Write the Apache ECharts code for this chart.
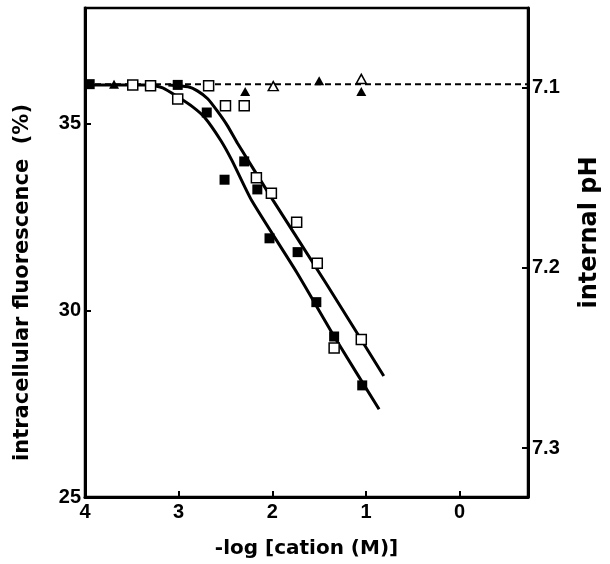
<!DOCTYPE html>
<html>
<head>
<meta charset="utf-8">
<script src="https://cdn.jsdelivr.net/npm/echarts@6/dist/echarts.min.js"></script>
<style>
  html, body { margin: 0; padding: 0; background: #fff; }
  #chart { width: 610px; height: 564px; }
</style>
</head>
<body>
<div id="chart"></div>
<script>
// tick labels
const xTicks = [4, 3, 2, 1, 0];
const fluoTicks = [25, 30, 35];
const phTicks = [7.1, 7.2, 7.3];

// intracellular fluorescence (%) vs -log[cation]
const filledSq = [[3.95, 36.06], [3.01, 36.04], [2.70, 35.30], [2.51, 33.50], [2.30, 33.99], [2.16, 33.24],
  [2.03, 31.93], [1.73, 31.56], [1.53, 30.22], [1.34, 29.30], [1.04, 27.99]];
const openSq = [[3.49, 36.04], [3.30, 36.02], [3.01, 35.66], [2.68, 36.02], [2.50, 35.48], [2.30, 35.48],
  [2.17, 33.55], [2.01, 33.14], [1.74, 32.36], [1.52, 31.26], [1.34, 28.99], [1.05, 29.22]];

// internal pH
const filledTri = [[3.69, 7.098], [2.29, 7.102], [1.50, 7.096], [1.05, 7.102]];
const openTri = [[1.99, 7.099], [1.05, 7.095]];

// fitted curves
const fitFilled = [[4.0, 36.04], [3.32, 36.04], [3.17, 35.96], [3.01, 35.72], [2.85, 35.45], [2.72, 35.16],
  [2.55, 34.55], [2.43, 34.01], [2.22, 32.94], [1.74, 31.02], [1.32, 29.22], [0.86, 27.35]];
const fitOpen = [[3.11, 36.04], [2.90, 35.99], [2.80, 35.88], [2.69, 35.67], [2.59, 35.35], [2.48, 34.95],
  [2.37, 34.47], [1.99, 32.94], [1.42, 30.70], [0.81, 28.24]];
const phLine = [[4.0, 7.098], [-0.73, 7.098]];

const chart = echarts.init(document.getElementById("chart"));

const tickFont = { color: "#000", fontFamily: "Liberation Sans", fontWeight: "bold", fontSize: 20 };
const titleFont = { color: "#000", fontFamily: "DejaVu Sans", fontWeight: "bold" };
const axisLine = { show: true, onZero: false, lineStyle: { color: "#000", width: 3 } };

chart.setOption({
  animation: false,
  backgroundColor: "#fff",
  grid: { left: 85, right: 77, top: 8, bottom: 67, show: true, borderColor: "#000", borderWidth: 2.5 },
  xAxis: {
    type: "value",
    min: -0.73,
    max: 4,
    inverse: true,
    name: "-log [cation (M)]",
    nameLocation: "middle",
    nameGap: 42,
    nameTextStyle: Object.assign({ fontSize: 20 }, titleFont),
    axisLine: axisLine,
    axisTick: { inside: true, length: 6, lineStyle: { color: "#000", width: 2 }, customValues: xTicks },
    axisLabel: Object.assign({ margin: 5, customValues: xTicks }, tickFont),
    splitLine: { show: false }
  },
  yAxis: [
    {
      type: "value",
      min: 25,
      max: 38.1,
      name: "intracellular fluorescence  (%)",
      nameLocation: "middle",
      nameGap: 52,
      nameTextStyle: Object.assign({ fontSize: 21, padding: [0, 60, 0, 0] }, titleFont),
      axisLine: axisLine,
      axisTick: { inside: true, length: 6, lineStyle: { color: "#000", width: 2 }, customValues: fluoTicks },
      axisLabel: Object.assign({ margin: 4, customValues: fluoTicks }, tickFont),
      splitLine: { show: false }
    },
    {
      type: "value",
      position: "right",
      min: 7.0556,
      max: 7.3272,
      inverse: true,
      name: "internal pH",
      nameLocation: "middle",
      nameGap: 50,
      nameTextStyle: Object.assign({ fontSize: 24, padding: [0, 0, 0, 40] }, titleFont),
      axisLine: axisLine,
      axisTick: { inside: true, length: 6, lineStyle: { color: "#000", width: 2 }, customValues: phTicks },
      axisLabel: Object.assign({ margin: 4, customValues: phTicks, formatter: v => v.toFixed(1) }, tickFont),
      splitLine: { show: false }
    }
  ],
  series: [
    {
      type: "line", data: phLine, yAxisIndex: 1, symbol: "none", z: 2,
      lineStyle: { color: "#000", width: 2, type: [6, 4] }
    },
    {
      type: "line", data: fitFilled, symbol: "none", smooth: 0.2, z: 3,
      lineStyle: { color: "#000", width: 3 }
    },
    {
      type: "line", data: fitOpen, symbol: "none", smooth: 0.2, z: 3,
      lineStyle: { color: "#000", width: 3 }
    },
    {
      type: "scatter", data: filledSq, symbol: "rect", symbolSize: 10, z: 5,
      itemStyle: { color: "#000", opacity: 1 }
    },
    {
      type: "scatter", data: openSq, symbol: "rect", symbolSize: 10, z: 6,
      itemStyle: { color: "#fff", borderColor: "#000", borderWidth: 1.5, opacity: 1 }
    },
    {
      type: "scatter", data: filledTri, yAxisIndex: 1, symbol: "triangle", symbolSize: [10, 9], z: 5,
      itemStyle: { color: "#000", opacity: 1 }
    },
    {
      type: "scatter", data: openTri, yAxisIndex: 1, symbol: "triangle", symbolSize: [10, 9], z: 6,
      itemStyle: { color: "#fff", borderColor: "#000", borderWidth: 1.5, opacity: 1 }
    }
  ]
});
</script>
</body>
</html>
